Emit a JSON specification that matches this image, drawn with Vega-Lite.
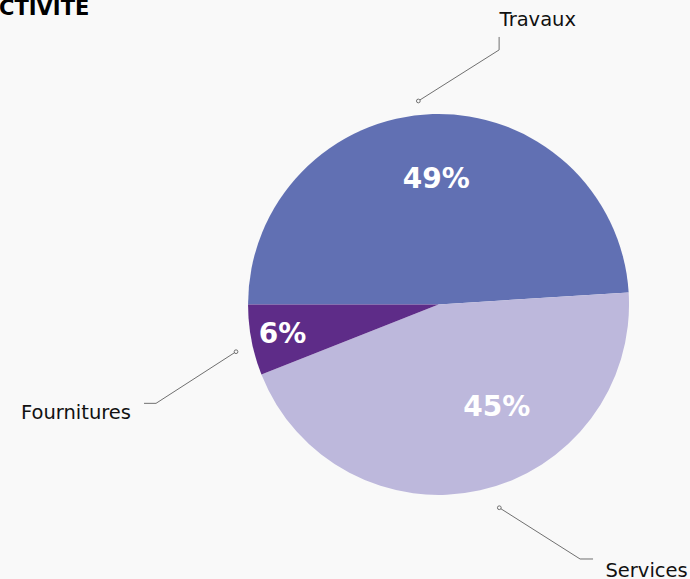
{
  "$schema": "https://vega.github.io/schema/vega-lite/v6.json",
  "width": 690,
  "height": 579,
  "autosize": {"type": "none"},
  "padding": 0,
  "background": "#f9f9f9",
  "datasets": {
    "parts": [
      {"activite": "Travaux", "part": 0.49},
      {"activite": "Services", "part": 0.45},
      {"activite": "Fournitures", "part": 0.06}
    ],
    "reperes": [
      {"activite": "Travaux", "ordre": 0, "x": -10.6, "y": 106.8},
      {"activite": "Travaux", "ordre": 1, "x": 31.8, "y": 133.6},
      {"activite": "Travaux", "ordre": 2, "x": 31.8, "y": 140.4},
      {"activite": "Fournitures", "ordre": 0, "x": -106.3, "y": -24.8},
      {"activite": "Fournitures", "ordre": 1, "x": -148.3, "y": -51.9},
      {"activite": "Fournitures", "ordre": 2, "x": -154.6, "y": -51.9},
      {"activite": "Services", "ordre": 0, "x": 31.9, "y": -106.7},
      {"activite": "Services", "ordre": 1, "x": 74.3, "y": -133.6},
      {"activite": "Services", "ordre": 2, "x": 81.1, "y": -133.6}
    ],
    "noms": [
      {"activite": "Travaux", "x": 52.1, "y": 146.2},
      {"activite": "Fournitures", "x": -190.3, "y": -60.3},
      {"activite": "Services", "x": 109.2, "y": -142.9}
    ],
    "valeurs": [
      {"activite": "Travaux", "x": -1.2, "y": 61.0},
      {"activite": "Fournitures", "x": -81.9, "y": -20.1},
      {"activite": "Services", "x": 30.6, "y": -58.5}
    ]
  },
  "layer": [
    {
      "data": {"name": "parts"},
      "mark": {"type": "arc", "outerRadius": 190.5},
      "encoding": {
        "x": {"datum": 0, "type": "quantitative", "scale": {"domain": [-230.2, 132.0], "nice": false, "zero": false}, "axis": null},
        "y": {"datum": 0, "type": "quantitative", "scale": {"domain": [-144.1, 159.8], "nice": false, "zero": false}, "axis": null},
        "theta": {"field": "part", "type": "quantitative", "stack": true, "scale": {"range": [4.712389, 10.995574]}},
        "order": {"field": "part", "sort": "descending"},
        "color": {
          "field": "activite",
          "type": "nominal",
          "legend": null,
          "scale": {"domain": ["Travaux", "Services", "Fournitures"], "range": ["#6170b3", "#bdb8dc", "#5e2c88"]}
        }
      }
    },
    {
      "data": {"name": "reperes"},
      "mark": {"type": "line", "color": "#707070", "strokeWidth": 1},
      "encoding": {
        "x": {"field": "x", "type": "quantitative"},
        "y": {"field": "y", "type": "quantitative"},
        "detail": {"field": "activite"},
        "order": {"field": "ordre"}
      }
    },
    {
      "data": {"name": "reperes"},
      "transform": [{"filter": "datum.ordre == 0"}],
      "mark": {"type": "point", "shape": "circle", "size": 14, "filled": true, "fill": "#f9f9f9", "stroke": "#707070", "strokeWidth": 1, "opacity": 1},
      "encoding": {
        "x": {"field": "x", "type": "quantitative"},
        "y": {"field": "y", "type": "quantitative"}
      }
    },
    {
      "data": {"name": "noms"},
      "mark": {"type": "text", "font": "DejaVu Sans", "fontSize": 19.5, "color": "#111111", "align": "center", "baseline": "alphabetic"},
      "encoding": {
        "x": {"field": "x", "type": "quantitative"},
        "y": {"field": "y", "type": "quantitative"},
        "text": {"field": "activite"}
      }
    },
    {
      "data": {"name": "valeurs"},
      "transform": [
        {"lookup": "activite", "from": {"data": {"name": "parts"}, "key": "activite", "fields": ["part"]}}
      ],
      "mark": {"type": "text", "font": "DejaVu Sans", "fontWeight": "bold", "fontSize": 28, "color": "#ffffff", "align": "center", "baseline": "alphabetic"},
      "encoding": {
        "x": {"field": "x", "type": "quantitative"},
        "y": {"field": "y", "type": "quantitative"},
        "text": {"field": "part", "type": "quantitative", "format": ".0%"}
      }
    },
    {
      "data": {"values": [{"titre": "RÉPARTITION PAR ACTIVITE", "x": -183.3, "y": 152.0}]},
      "mark": {"type": "text", "font": "DejaVu Sans", "fontWeight": "bold", "fontSize": 21, "color": "#000000", "align": "right", "baseline": "alphabetic"},
      "encoding": {
        "x": {"field": "x", "type": "quantitative"},
        "y": {"field": "y", "type": "quantitative"},
        "text": {"field": "titre"}
      }
    }
  ],
  "config": {
    "view": {"stroke": null}
  }
}
